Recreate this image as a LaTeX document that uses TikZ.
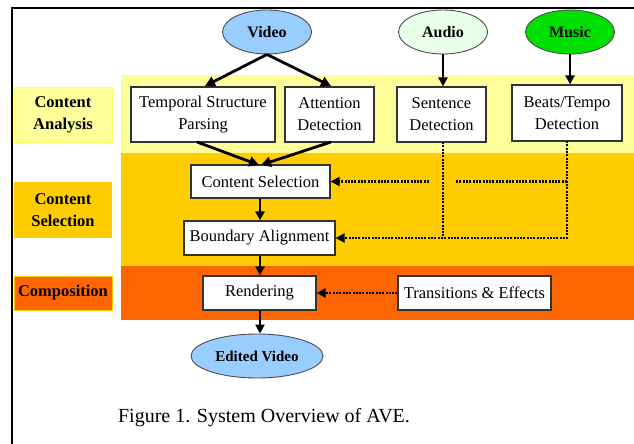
\documentclass[tikz,border=0pt]{standalone}
\usepackage{fontspec}
\setmainfont{Liberation Serif}
\usetikzlibrary{arrows.meta,shapes.geometric}
\definecolor{cayel}{HTML}{FFFF99}
\definecolor{cayelb}{HTML}{FFFF66}
\definecolor{csor}{HTML}{FFCC00}
\definecolor{coor}{HTML}{FF6600}
\definecolor{vidblue}{HTML}{99CCFF}
\definecolor{audgreen}{HTML}{E8FFE8}
\definecolor{musgreen}{HTML}{00E000}
\tikzset{
  procbox/.style={draw=black!80, line width=1.2pt, fill=white, align=center, font=\fontsize{16.5}{22}\selectfont, inner sep=0pt},
  srcell/.style={ellipse, draw=black!70, line width=0.9pt, minimum width=89pt, minimum height=44pt, inner sep=0pt, font=\fontsize{16}{18}\selectfont\bfseries},
  lbl/.style={align=center, font=\fontsize{16.5}{22}\selectfont\bfseries, minimum width=98pt, inner sep=0pt},
  arr/.style={line width=2.8pt, -{Triangle[length=10pt,width=10pt]}},
  arrs/.style={line width=2.4pt, -{Triangle[length=9pt,width=9pt]}},
  dotl/.style={line width=2.4pt, dash pattern=on 2pt off 1.3pt},
  dota/.style={dotl, -{Triangle[length=9pt,width=9pt]}},
}
\begin{document}
\begin{tikzpicture}[x=1pt,y=-1pt]
\useasboundingbox (0,0) rectangle (634,444);
\fill[white] (0,0) rectangle (634,444);
% frame
\draw[line width=2.4pt] (12,444) -- (12,8) -- (634,8);
% bands
\fill[cayel] (121,75) rectangle (634,153);
\draw[cayelb, line width=1pt] (121.5,75.5) -- (634,75.5) (121.5,75.5) -- (121.5,153);
\fill[csor] (121,153) rectangle (634,266);
\fill[coor] (121,266) rectangle (634,320);
% left labels
\node[lbl, fill=cayel, draw=cayelb, line width=1pt, minimum height=55pt] (lca) at (63,114.5) {Content\\Analysis};
\node[lbl, fill=csor, minimum height=56pt] (lcs) at (63,210) {Content\\Selection};
\node[lbl, fill=coor, draw=csor, line width=1pt, minimum height=34pt] (lco) at (63,293) {Composition};
% sources
\node[srcell, fill=vidblue] (vid) at (267,32) {Video};
\node[srcell, fill=audgreen] (aud) at (443,32) {Audio};
\node[srcell, fill=musgreen] (mus) at (570,32) {Music};
% analysis boxes
\node[procbox, minimum width=144pt, minimum height=55pt] (tsp) at (203,114.5) {Temporal Structure\\Parsing};
\node[procbox, minimum width=89pt, minimum height=55pt] (att) at (329.5,114.5) {Attention\\Detection};
\node[procbox, minimum width=89pt, minimum height=55pt] (sen) at (441.5,114.5) {Sentence\\Detection};
\node[procbox, minimum width=110pt, minimum height=56pt] (bts) at (567,113) {Beats/Tempo\\Detection};
% selection
\node[procbox, minimum width=139pt, minimum height=33pt] (cs) at (260.5,181.5) {Content Selection};
\node[procbox, minimum width=151pt, minimum height=34pt] (ba) at (259.5,238) {Boundary Alignment};
% composition
\node[procbox, minimum width=113pt, minimum height=34pt] (ren) at (259.5,293) {Rendering};
\node[procbox, minimum width=153pt, minimum height=34pt] (tre) at (474.5,293) {Transitions \& Effects};
% output
\node[srcell, fill=vidblue, minimum width=132pt, minimum height=44pt, font=\fontsize{15}{17}\selectfont\bfseries] (out) at (257,356) {Edited Video};
% caption
\node[font=\fontsize{20}{23}\selectfont, inner sep=0pt] (cap) at (264,418) {Figure 1. System Overview of AVE.};
% solid arrows
\draw[arr] (vid.south) -- (205,86);
\draw[arr] (vid.south) -- (331,86);
\draw[arrs] (aud.south) -- (sen.north -| aud.south);
\draw[arrs] (mus.south) -- (bts.north -| mus.south);
\draw[arr] (197,142) -- (259,165);
\draw[arr] (331,142) -- (261,165);
\draw[arrs] (cs.south -| 260,0) -- (ba.north -| 260,0);
\draw[arrs] (ba.south -| 260,0) -- (ren.north -| 260,0);
\draw[arrs] (ren.south -| 260,0) -- (out.north -| 260,0);
% dotted connectors
\coordinate (gapR) at (455,181.5);
\coordinate (gapL) at (429,181.5);
\draw[dotl] (443,142) -- (443,237);
\draw[dota] (567,141) |- (ba.east);
\draw[dotl] (bts.south |- gapR) -- (gapR);
\draw[dota] (gapL) -- (cs.east);
\draw[dota] (tre.west) -- (ren.east);
\end{tikzpicture}
\end{document}
